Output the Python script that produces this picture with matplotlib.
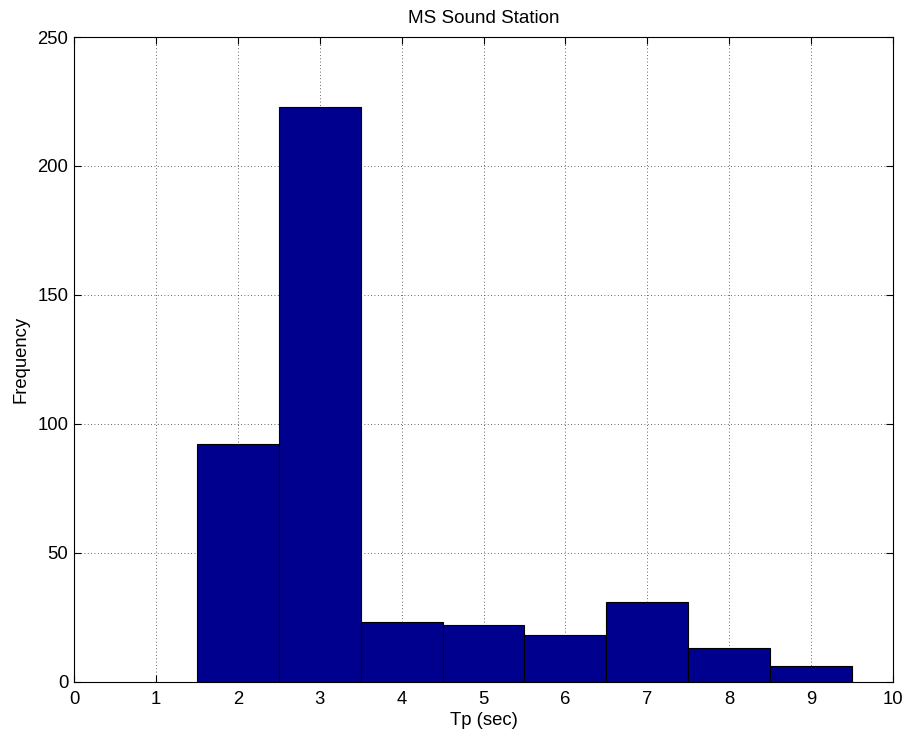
import numpy as np
import matplotlib
matplotlib.use("Agg")
import matplotlib.pyplot as plt

# Histogram of peak wave period
bin_centers = [2, 3, 4, 5, 6, 7, 8, 9]
counts = [92, 223, 23, 22, 18, 31, 13, 6]
x_ticks = list(range(0, 11))
y_ticks = [0, 50, 100, 150, 200, 250]

plt.rcParams['font.family'] = ['Liberation Sans', 'DejaVu Sans']
plt.rcParams['font.size'] = 13.3

fig = plt.figure(figsize=(9.07, 7.38), dpi=100)
ax = fig.add_axes([74 / 907, 1 - 681.5 / 738, (893 - 74) / 907, (681.5 - 37) / 738])

ax.bar(bin_centers, counts, width=1.0, color="#00008F", edgecolor="black", linewidth=0.8, zorder=2)

ax.set_xlim(0, 10)
ax.set_ylim(0, 250)
ax.set_xticks(x_ticks)
ax.set_yticks(y_ticks)
ax.grid(True, linestyle=(0, (1, 3)), color="#333333", linewidth=0.6, zorder=0)
ax.set_axisbelow(True)
ax.tick_params(direction="in", top=True, right=True, length=5, width=0.8)
ax.tick_params(axis="x", pad=7)
ax.tick_params(axis="y", pad=4)
for s in ax.spines.values():
    s.set_linewidth(0.8)
    s.set_zorder(3)

ax.set_xlabel("Tp (sec)", labelpad=3)
ax.set_ylabel("Frequency", labelpad=6)
ax.set_title("MS Sound Station", pad=10, fontsize=13.6)

fig.savefig("out.png", dpi=100)
